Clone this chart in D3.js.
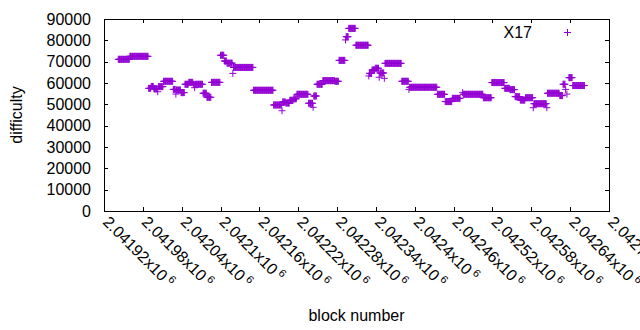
<!DOCTYPE html>
<html>
<head>
<meta charset="utf-8">
<script src="https://cdn.jsdelivr.net/npm/d3@7"></script>
<style>
  body { margin: 0; background: #fff; }
  text { font-family: "Liberation Sans", Arial, sans-serif; fill: #000; }
</style>
</head>
<body>
<svg width="640" height="330"></svg>
<script>
let WIDTH  = 640,
    HEIGHT = 330,
    LEFT   = 104,
    RIGHT  = 609,
    TOP    = 19,
    BOTTOM = 211,
    FONT   = 16;

// runs of consecutive blocks that share one difficulty value
let runFirstBlock = [
    2041942, 2041960, 2041989, 2041993, 2041997, 2042003, 2042004, 2042012, 2042027, 2042031,
    2042032, 2042039, 2042045, 2042051, 2042058, 2042060, 2042061, 2042073, 2042079, 2042086,
    2042100, 2042106, 2042110, 2042119, 2042120, 2042151, 2042182, 2042195, 2042196, 2042201,
    2042207, 2042213, 2042218, 2042236, 2042243, 2042244, 2042249, 2042258, 2042277, 2042283,
    2042293, 2042294, 2042298, 2042309, 2042329, 2042330, 2042334, 2042339, 2042345, 2042346,
    2042353, 2042354, 2042380, 2042391, 2042392, 2042435, 2042447, 2042458, 2042474, 2042475,
    2042506, 2042519, 2042539, 2042547, 2042555, 2042563, 2042571, 2042583, 2042584, 2042604,
    2042605, 2042624, 2042629, 2042633, 2042635, 2042638, 2042644
];
let runLastBlock = [
    2041959, 2041988, 2041992, 2041996, 2042002, 2042003, 2042011, 2042026, 2042030, 2042031,
    2042038, 2042044, 2042050, 2042057, 2042059, 2042060, 2042072, 2042078, 2042085, 2042099,
    2042105, 2042109, 2042118, 2042119, 2042150, 2042181, 2042194, 2042195, 2042200, 2042206,
    2042212, 2042217, 2042235, 2042242, 2042243, 2042248, 2042257, 2042276, 2042282, 2042292,
    2042293, 2042297, 2042308, 2042328, 2042329, 2042333, 2042338, 2042344, 2042345, 2042352,
    2042353, 2042379, 2042390, 2042391, 2042434, 2042446, 2042457, 2042470, 2042474, 2042505,
    2042518, 2042538, 2042546, 2042554, 2042562, 2042570, 2042582, 2042583, 2042603, 2042604,
    2042623, 2042628, 2042632, 2042633, 2042635, 2042643, 2042662
];
let runDifficulty = [
    71100, 72500, 57500, 58400, 57300, 55900, 58300, 60800, 57000, 54800,
    56700, 55500, 59400, 60300, 59400, 57800, 59400, 55200, 53300, 60300,
    73000, 70300, 69300, 64500, 67300, 56600, 49700, 47000, 51100, 50600,
    51900, 52600, 54700, 50500, 48600, 53900, 59400, 61100, 60800, 70600,
    80200, 81700, 85600, 77700, 63300, 64500, 66100, 66900, 62700, 64700,
    62200, 69200, 60800, 57000, 58000, 54700, 51300, 52800, 55500, 54700,
    53100, 60200, 57500, 56900, 53600, 52000, 53100, 48400, 50300, 48400,
    55200, 54100, 59400, 57000, 54800, 62500, 58800
];

let xTicks = [2041920, 2041980, 2042040, 2042100, 2042160, 2042220, 2042280,
              2042340, 2042400, 2042460, 2042520, 2042580, 2042640, 2042700];
let xTickLabels = ["2.04192", "2.04198", "2.04204", "2.0421", "2.04216", "2.04222", "2.04228",
                   "2.04234", "2.0424", "2.04246", "2.04252", "2.04258", "2.04264", "2.0427"];
let yTicks = [0, 10000, 20000, 30000, 40000, 50000, 60000, 70000, 80000, 90000];

let COLOR = "#9400d3";

// one point per block
let points = [];
runFirstBlock.forEach(function (first, i) {
    for (let b = first; b <= runLastBlock[i]; b++) {
        points.push({ block: b, difficulty: runDifficulty[i] });
    }
});

let svg = d3.select("svg");

let x = d3.scaleLinear().domain([xTicks[0], xTicks[xTicks.length - 1]]).range([LEFT, RIGHT]);
let y = d3.scaleLinear().domain([0, 90000]).range([BOTTOM, TOP]);

let plus = "M-3.5,0H3.5M0,-3.5V3.5";

// points
svg.append("g")
   .selectAll("path")
   .data(points)
   .enter()
   .append("path")
   .attr("d", plus)
   .attr("transform", d => "translate(" + x(d.block) + "," + y(d.difficulty) + ")")
   .attr("fill", "none")
   .attr("stroke", COLOR)
   .attr("stroke-width", 1);

// ticks (inward, mirrored)
let ticks = svg.append("g").attr("stroke", "#000").attr("stroke-width", 1);
yTicks.forEach(function (v) {
    let yy = Math.round(y(v)) + 0.5;
    ticks.append("line").attr("x1", LEFT).attr("x2", LEFT + 4).attr("y1", yy).attr("y2", yy);
    ticks.append("line").attr("x1", RIGHT).attr("x2", RIGHT - 4).attr("y1", yy).attr("y2", yy);
});
xTicks.forEach(function (v) {
    let xx = Math.round(x(v)) + 0.5;
    ticks.append("line").attr("x1", xx).attr("x2", xx).attr("y1", BOTTOM).attr("y2", BOTTOM - 4);
    ticks.append("line").attr("x1", xx).attr("x2", xx).attr("y1", TOP).attr("y2", TOP + 4);
});

// border
svg.append("rect")
   .attr("x", LEFT + 0.5).attr("y", TOP + 0.5)
   .attr("width", RIGHT - LEFT).attr("height", BOTTOM - TOP)
   .attr("fill", "none").attr("stroke", "#000").attr("stroke-width", 1);

// y tick labels
svg.append("g")
   .selectAll("text")
   .data(yTicks)
   .enter()
   .append("text")
   .attr("x", 91)
   .attr("y", d => y(d) + 5.5)
   .attr("text-anchor", "end")
   .attr("font-size", FONT)
   .text(d => d);

// x tick labels, rotated
let xl = svg.append("g")
   .selectAll("text")
   .data(xTicks)
   .enter()
   .append("text")
   .attr("transform", d => "translate(" + (x(d) - 2) + "," + (BOTTOM + 12) + ") rotate(45)")
   .attr("font-size", FONT);
xl.append("tspan").text((d, i) => xTickLabels[i] + "x10");
xl.append("tspan").attr("dx", 3).attr("dy", -6).attr("font-size", 11).text("6");

// axis titles
svg.append("text")
   .attr("transform", "translate(22," + ((TOP + BOTTOM) / 2) + ") rotate(-90)")
   .attr("text-anchor", "middle")
   .attr("font-size", FONT)
   .text("difficulty");

svg.append("text")
   .attr("x", (LEFT + RIGHT) / 2)
   .attr("y", 321)
   .attr("text-anchor", "middle")
   .attr("font-size", FONT)
   .text("block number");

// key
svg.append("text")
   .attr("x", 532)
   .attr("y", 37.5)
   .attr("text-anchor", "end")
   .attr("font-size", FONT)
   .text("X17");
svg.append("path")
   .attr("d", plus)
   .attr("transform", "translate(567.5,32.5)")
   .attr("fill", "none")
   .attr("stroke", COLOR)
   .attr("stroke-width", 1);
</script>
</body>
</html>
